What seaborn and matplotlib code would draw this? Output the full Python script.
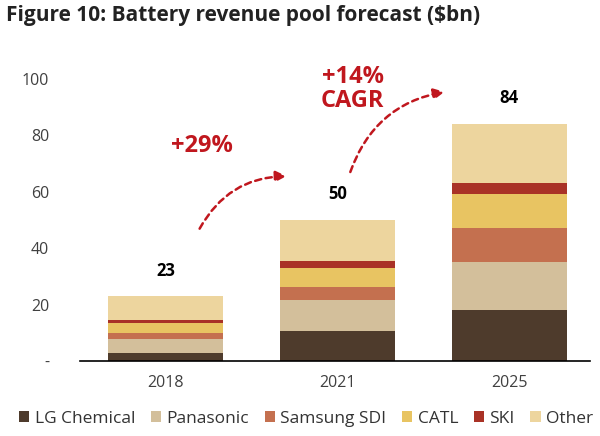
import matplotlib
matplotlib.use("Agg")
import matplotlib.pyplot as plt
from matplotlib.patches import Patch
import seaborn as sns
import pandas as pd
import numpy as np

years = ["2018", "2021", "2025"]
companies = ["LG Chemical", "Panasonic", "Samsung SDI", "CATL", "SKI", "Other"]
lg_chem = [2.8, 10.5, 18.0]
panasonic = [5.0, 11.0, 17.0]
samsung = [2.1, 4.6, 12.0]
catl = [3.5, 6.8, 12.0]
ski = [1.1, 2.4, 4.0]
other = [8.5, 14.7, 21.0]
totals = [23, 50, 84]
colors = ["#4E3B2C", "#D3BF9B", "#C4704F", "#E8C462", "#A93226", "#EDD59E"]

series = [lg_chem, panasonic, samsung, catl, ski, other]
df = pd.DataFrame({"year": years})
for name, vals in zip(companies, series):
    df[name] = vals

sns.set_style("white")
plt.rcParams["font.family"] = ["Open Sans", "DejaVu Sans"]

fig = plt.figure(figsize=(6, 4.36), dpi=100)
ax = fig.add_axes([0.133, 0.172, 0.85, 0.68])

bottom = np.zeros(len(years))
for name, col in zip(companies, colors):
    sns.barplot(data=df, x="year", y=name, color=col, bottom=bottom,
                width=0.67, ax=ax, saturation=1, linewidth=0)
    bottom += df[name].values

for i, t in enumerate(totals):
    ax.text(i, t + 9, str(t), ha="center", va="center",
            fontsize=12, fontweight="bold", color="black")

red = "#C0171E"
ax.annotate("", xy=(0.72, 65.5), xytext=(0.19, 46),
            arrowprops=dict(arrowstyle="-|>", color=red, lw=1.8, ls=(0, (2.5, 1.8)),
                            connectionstyle="arc3,rad=-0.3", mutation_scale=16))
ax.annotate("", xy=(1.64, 95.5), xytext=(1.07, 66),
            arrowprops=dict(arrowstyle="-|>", color=red, lw=1.8, ls=(0, (2.5, 1.8)),
                            connectionstyle="arc3,rad=-0.3", mutation_scale=16))
ax.text(0.21, 76, "+29%", ha="center", va="center", color=red,
        fontsize=17, fontweight="bold")
ax.text(1.09, 96.5, "+14%\nCAGR", ha="center", va="center", color=red,
        fontsize=17, fontweight="bold", linespacing=1.0)

ax.set_xlim(-0.5, 2.47)
ax.set_ylim(0, 105)
ax.set_yticks([0, 20, 40, 60, 80, 100])
ax.set_yticklabels(["-", "20", "40", "60", "80", "100"])
ax.set_xlabel("")
ax.set_ylabel("")
ax.tick_params(axis="both", length=0, labelsize=11.5, labelcolor="#404040")
ax.tick_params(axis="y", pad=22)
ax.tick_params(axis="x", pad=10)
for s in ["top", "right", "left"]:
    ax.spines[s].set_visible(False)
ax.spines["bottom"].set_color("black")
ax.spines["bottom"].set_linewidth(1.2)

handles = [Patch(facecolor=c, edgecolor="none") for c in colors]
fig.legend(handles, companies, loc="center", bbox_to_anchor=(0.51, 0.04),
           ncol=6, frameon=False, fontsize=12.5, handlelength=0.6, handleheight=0.6,
           handletextpad=0.3, columnspacing=0.9, labelcolor="#333333")

fig.text(0.01, 0.965, "Figure 10: Battery revenue pool forecast ($bn)",
         fontsize=15, fontweight="bold", ha="left", va="center", color="#222222")

fig.savefig("out.png", dpi=100)
